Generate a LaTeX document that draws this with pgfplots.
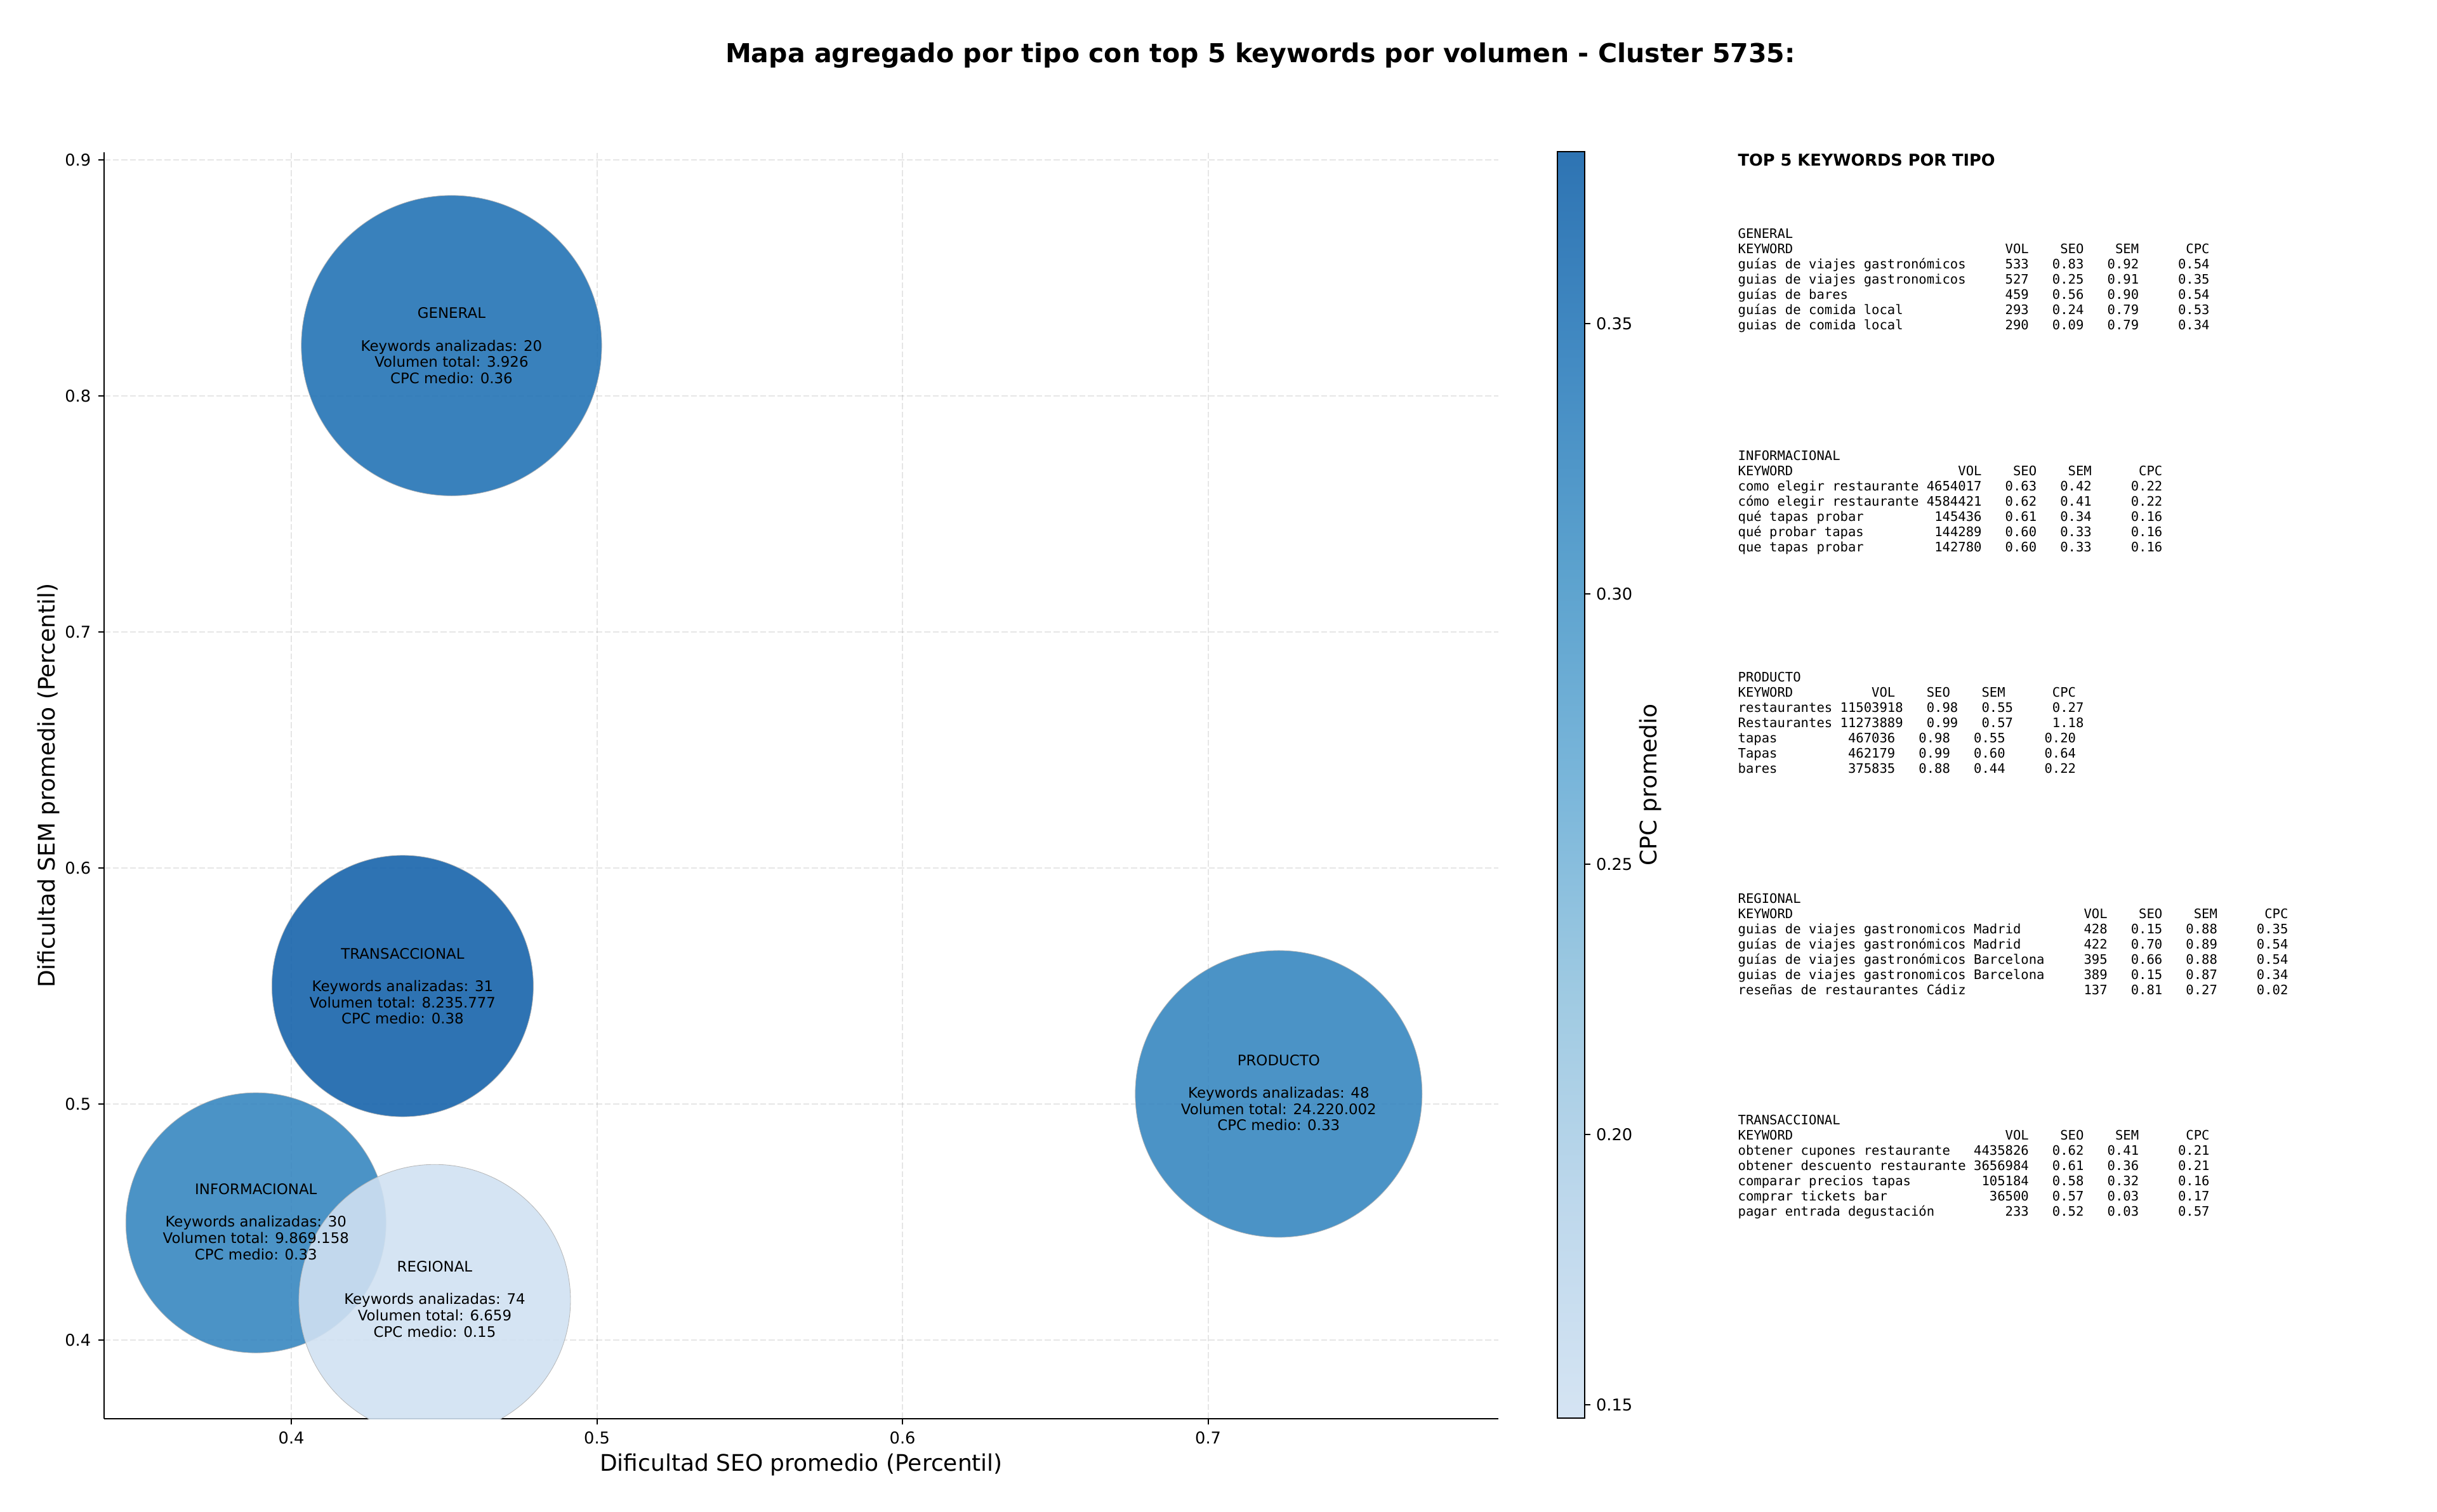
\documentclass[border=0pt]{standalone}
\usepackage{fontspec}
\usepackage{pgfplots}
\pgfplotsset{compat=1.18}
\setmainfont{DejaVu Sans}
\newfontfamily\tablefam{DejaVu Sans Mono}
\newcommand\tickfont{\fontsize{7.71bp}{9bp}\selectfont}
\newcommand\labfont{\fontsize{10.8bp}{13bp}\selectfont}
\newcommand\bubfont{\fontsize{6.87bp}{7.7bp}\selectfont}
\newlength\chw
\newcommand\Rw[7]{\hbox{\makebox[#1\chw][l]{#2}\makebox[#3\chw][r]{#4}\makebox[7\chw][r]{#5}\makebox[7\chw][r]{#6}\makebox[9\chw][r]{#7}}}
\newcommand\tblock[2]{\node[anchor=base west,inner sep=0pt] at (821.4bp,#1bp) {\vtop{\tablefam\fontsize{6.17bp}{7.2bp}\selectfont\settowidth{\chw}{0}\baselineskip=7.2bp\lineskiplimit=-100pt #2}};}
\newcommand\bub[6]{\node[align=center,inner sep=0pt,font=\bubfont] at (axis cs:#1,#2) {#3\\[7.7bp]Keywords analizadas: #4\\Volumen total: #5\\CPC medio: #6};}
\definecolor{gridc}{RGB}{128,128,128}
\pgfplotsset{
 colormap={blues}{rgb255=(208,225,242) rgb255=(183,212,234) rgb255=(148,196,223) rgb255=(107,174,214) rgb255=(74,152,201) rgb255=(46,126,188) rgb255=(23,100,171)},
 colormap={blendblues}{rgb255=(213,228,243) rgb255=(190,216,236) rgb255=(159,202,226) rgb255=(122,182,218) rgb255=(92,162,206) rgb255=(67,139,195) rgb255=(46,116,179)},
 bubble/.style={scatter,only marks,mark=*,scatter src=explicit,
   scatter/use mapped color={draw=gray!60,fill=mapped color},
   mark options={fill opacity=0.9,draw opacity=0.9,line width=0.25bp}},
 mainbox/.style={at={(49.2bp,44.1bp)},anchor=south west,scale only axis,width=659.1bp,height=598.8bp,
   xmin=0.3387,xmax=0.795,ymin=0.3667,ymax=0.9032},
}
\begin{document}
\begin{tikzpicture}
\useasboundingbox (0,0) rectangle (1152bp,714.9bp);
\begin{axis}[
 mainbox,
 axis x line*=bottom,axis y line*=left,axis line style={-,line width=0.6bp,black},
 xtick={0.4,0.5,0.6,0.7},ytick={0.4,0.5,0.6,0.7,0.8,0.9},
 tick align=outside,major tick length=2.7bp,tick style={line width=0.6bp,black},
 tick label style={font=\tickfont},
 /pgf/number format/assume math mode=true,
 /pgf/number format/fixed,/pgf/number format/fixed zerofill,/pgf/number format/precision=1,
 grid=major,grid style={dash pattern=on 2.85bp off 1.23bp,line width=0.6bp,gridc,opacity=0.2},
 xlabel={Dificultad SEO promedio (Percentil)},ylabel={Dificultad SEM promedio (Percentil)},
 label style={font=\labfont},
 xlabel style={at={(axis description cs:0.5,-0.0365)},anchor=center},
 ylabel style={at={(axis description cs:-0.0400,0.5)},anchor=center},
 title={\textbf{Mapa agregado por tipo con top 5 keywords por volumen - Cluster 5735:}},
 title style={font=\fontsize{12.33bp}{15bp}\selectfont,at={(axis description cs:0.8293,1.0664)},anchor=center},
 colormap name=blues,point meta min=0.1475,point meta max=0.3818,
 clip=true,clip marker paths=true,
]
\addplot[bubble,mark size=71.0bp] coordinates {(0.4524,0.8213) [0.36]};
\addplot[bubble,mark size=61.5bp] coordinates {(0.3884,0.4497) [0.33]};
\addplot[bubble,mark size=67.8bp] coordinates {(0.7231,0.5043) [0.33]};
\addplot[bubble,mark size=64.2bp] coordinates {(0.4469,0.4169) [0.1475]};
\addplot[bubble,mark size=61.8bp] coordinates {(0.4364,0.5500) [0.3818]};
\end{axis}
\begin{axis}[mainbox,hide axis]
\addplot[draw=none] coordinates {(0.5,0.5)};
\bub{0.4524}{0.8213}{GENERAL}{20}{3.926}{0.36}
\bub{0.3884}{0.4502}{INFORMACIONAL}{30}{9.869.158}{0.33}
\bub{0.7231}{0.5048}{PRODUCTO}{48}{24.220.002}{0.33}
\bub{0.4469}{0.4174}{REGIONAL}{74}{6.659}{0.15}
\bub{0.4364}{0.5500}{TRANSACCIONAL}{31}{8.235.777}{0.38}
\end{axis}
\begin{axis}[
 at={(736.2bp,44.4bp)},anchor=south west,scale only axis,width=12.9bp,height=598.8bp,
 hide axis,colormap name=blendblues,point meta min=0.1475,point meta max=0.3818,
 xmin=0,xmax=1,ymin=0,ymax=1,
 colorbar,
 colorbar style={
  at={(0,0)},anchor=south west,width=12.9bp,height=598.8bp,scale only axis,
  ytick={0.15,0.20,0.25,0.30,0.35},
  tick align=outside,major tick length=2.7bp,tick style={line width=0.6bp,black},
  ytick pos=right,yticklabel pos=right,axis line style={line width=0.6bp,black},
  y tick label style={font=\tickfont,xshift=-0.8bp},
  /pgf/number format/assume math mode=true,
  /pgf/number format/fixed,/pgf/number format/fixed zerofill,/pgf/number format/precision=2,
  ylabel={CPC promedio},
  ylabel style={font=\labfont,at={(axis description cs:3.41,0.5)},anchor=center,rotate=0},
 },
]
\addplot[draw=none] coordinates {(0.5,0.5)};
\end{axis}
\node[anchor=base west,inner sep=0pt,font=\fontsize{7.69bp}{9bp}\selectfont\bfseries] at (821.4bp,636.5bp) {TOP 5 KEYWORDS POR TIPO};
\tblock{602.25}{\hbox{GENERAL}
\Rw{29}{KEYWORD}{8}{VOL}{SEO}{SEM}{CPC}
\Rw{29}{guías de viajes gastronómicos}{8}{533}{0.83}{0.92}{0.54}
\Rw{29}{guias de viajes gastronomicos}{8}{527}{0.25}{0.91}{0.35}
\Rw{29}{guías de bares}{8}{459}{0.56}{0.90}{0.54}
\Rw{29}{guías de comida local}{8}{293}{0.24}{0.79}{0.53}
\Rw{29}{guias de comida local}{8}{290}{0.09}{0.79}{0.34}}
\tblock{497.25}{\hbox{INFORMACIONAL}
\Rw{23}{KEYWORD}{8}{VOL}{SEO}{SEM}{CPC}
\Rw{23}{como elegir restaurante}{8}{4654017}{0.63}{0.42}{0.22}
\Rw{23}{cómo elegir restaurante}{8}{4584421}{0.62}{0.41}{0.22}
\Rw{23}{qué tapas probar}{8}{145436}{0.61}{0.34}{0.16}
\Rw{23}{qué probar tapas}{8}{144289}{0.60}{0.33}{0.16}
\Rw{23}{que tapas probar}{8}{142780}{0.60}{0.33}{0.16}}
\tblock{392.55}{\hbox{PRODUCTO}
\Rw{12}{KEYWORD}{8}{VOL}{SEO}{SEM}{CPC}
\Rw{12}{restaurantes}{9}{11503918}{0.98}{0.55}{0.27}
\Rw{12}{Restaurantes}{9}{11273889}{0.99}{0.57}{1.18}
\Rw{12}{tapas}{8}{467036}{0.98}{0.55}{0.20}
\Rw{12}{Tapas}{8}{462179}{0.99}{0.60}{0.64}
\Rw{12}{bares}{8}{375835}{0.88}{0.44}{0.22}}
\tblock{287.85}{\hbox{REGIONAL}
\Rw{39}{KEYWORD}{8}{VOL}{SEO}{SEM}{CPC}
\Rw{39}{guias de viajes gastronomicos Madrid}{8}{428}{0.15}{0.88}{0.35}
\Rw{39}{guías de viajes gastronómicos Madrid}{8}{422}{0.70}{0.89}{0.54}
\Rw{39}{guías de viajes gastronómicos Barcelona}{8}{395}{0.66}{0.88}{0.54}
\Rw{39}{guias de viajes gastronomicos Barcelona}{8}{389}{0.15}{0.87}{0.34}
\Rw{39}{reseñas de restaurantes Cádiz}{8}{137}{0.81}{0.27}{0.02}}
\tblock{183.15}{\hbox{TRANSACCIONAL}
\Rw{29}{KEYWORD}{8}{VOL}{SEO}{SEM}{CPC}
\Rw{29}{obtener cupones restaurante}{8}{4435826}{0.62}{0.41}{0.21}
\Rw{29}{obtener descuento restaurante}{8}{3656984}{0.61}{0.36}{0.21}
\Rw{29}{comparar precios tapas}{8}{105184}{0.58}{0.32}{0.16}
\Rw{29}{comprar tickets bar}{8}{36500}{0.57}{0.03}{0.17}
\Rw{29}{pagar entrada degustación}{8}{233}{0.52}{0.03}{0.57}}
\end{tikzpicture}
\end{document}
